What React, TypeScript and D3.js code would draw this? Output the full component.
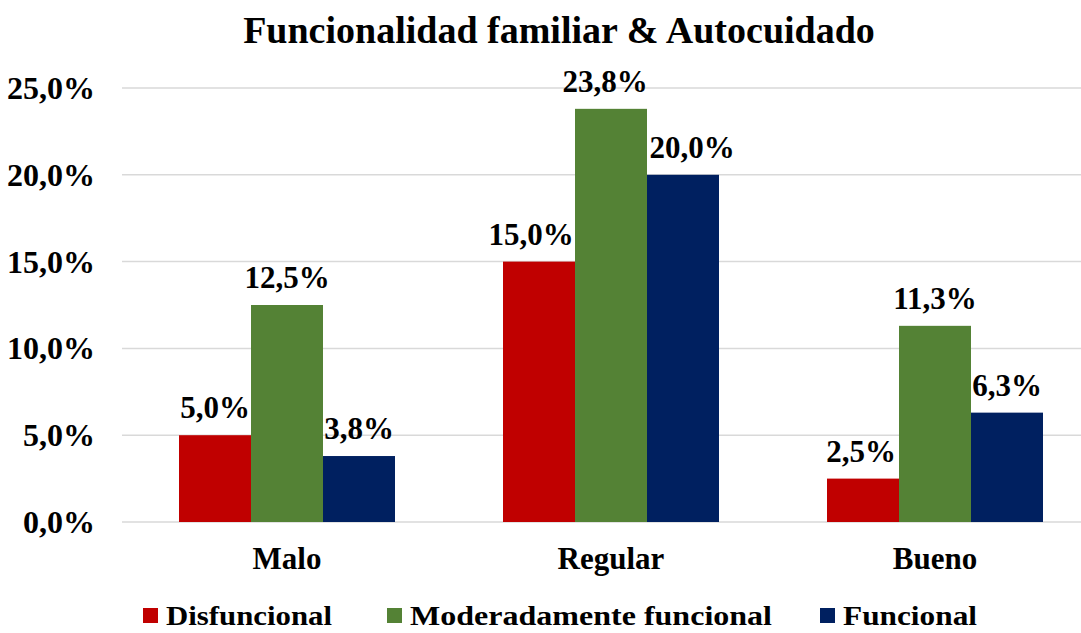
import React from "react";
import * as d3 from "d3";

const categories = ["Malo", "Regular", "Bueno"];
const series = ["Disfuncional", "Moderadamente funcional", "Funcional"];
const colors = ["#C00000", "#548235", "#002060"];
const values = [
  [5.0, 12.5, 3.8],
  [15.0, 23.8, 20.0],
  [2.5, 11.3, 6.3],
];
const yTicks = [0, 5, 10, 15, 20, 25];
const title = "Funcionalidad familiar & Autocuidado";

// small horizontal nudges of data labels (as placed in the original)
const labelNudge = [
  [0, 0, 0],
  [-8, -6, 9],
  [-2, 0, 0],
];

const fmt = (v: number) => v.toFixed(1).replace(".", ",") + "%";

const App = () => {
  const width = 1081;
  const height = 633;
  const margin = { top: 88, right: -16, bottom: 111, left: 125 };
  const font = "'Liberation Serif', 'Times New Roman', serif";

  const x0 = d3
    .scaleBand()
    .domain(categories)
    .range([margin.left, width - margin.right])
    .paddingInner(1 / 3)
    .paddingOuter(1 / 6);

  const x1 = d3.scaleBand().domain(series).range([0, x0.bandwidth()]);

  const y = d3
    .scaleLinear()
    .domain([0, 25])
    .range([height - margin.bottom, margin.top]);

  // legend layout (squares + text widths)
  const legend = [
    { x: 143, w: 166 },
    { x: 387, w: 362 },
    { x: 820, w: 134 },
  ];

  const txt = { fontFamily: font, fontWeight: 700 } as React.CSSProperties;

  return (
    <svg
      width={width}
      height={height}
      style={{ position: "absolute", left: 0, top: 0, background: "#fff" }}
    >
      <text x={559} y={43} textAnchor="middle" fontSize={38} fill="#000" style={txt}>
        {title}
      </text>

      {/* gridlines + y axis labels */}
      {yTicks.map((t) => (
        <g key={t}>
          <line
            x1={122}
            x2={width}
            y1={y(t)}
            y2={y(t)}
            stroke="#d9d9d9"
            strokeWidth={1.5}
          />
          <text x={95} y={y(t) + 11} textAnchor="end" fontSize={32} fill="#000" style={txt}>
            {fmt(t)}
          </text>
        </g>
      ))}

      {/* bars */}
      {categories.map((c, ci) => (
        <g key={c} transform={`translate(${x0(c)},0)`}>
          {series.map((s, si) => {
            const v = values[ci][si];
            const bx = x1(s) as number;
            return (
              <g key={s}>
                <rect
                  x={bx}
                  y={y(v)}
                  width={x1.bandwidth()}
                  height={y(0) - y(v)}
                  fill={colors[si]}
                />
                <text
                  x={bx + x1.bandwidth() / 2 + labelNudge[ci][si]}
                  y={y(v) - 17}
                  textAnchor="middle"
                  fontSize={31}
                  fill="#000"
                  style={txt}
                >
                  {fmt(v)}
                </text>
              </g>
            );
          })}
          <text
            x={x0.bandwidth() / 2}
            y={y(0) + 47}
            textAnchor="middle"
            fontSize={31}
            fill="#000"
            style={txt}
          >
            {c}
          </text>
        </g>
      ))}

      {/* legend */}
      {series.map((s, i) => (
        <g key={s}>
          <rect x={legend[i].x} y={608} width={15} height={15} fill={colors[i]} />
          <text
            x={legend[i].x + 23}
            y={625}
            fontSize={28}
            fill="#000"
            style={txt}
            textLength={legend[i].w}
            lengthAdjust="spacingAndGlyphs"
          >
            {s}
          </text>
        </g>
      ))}
    </svg>
  );
};

export default App;
